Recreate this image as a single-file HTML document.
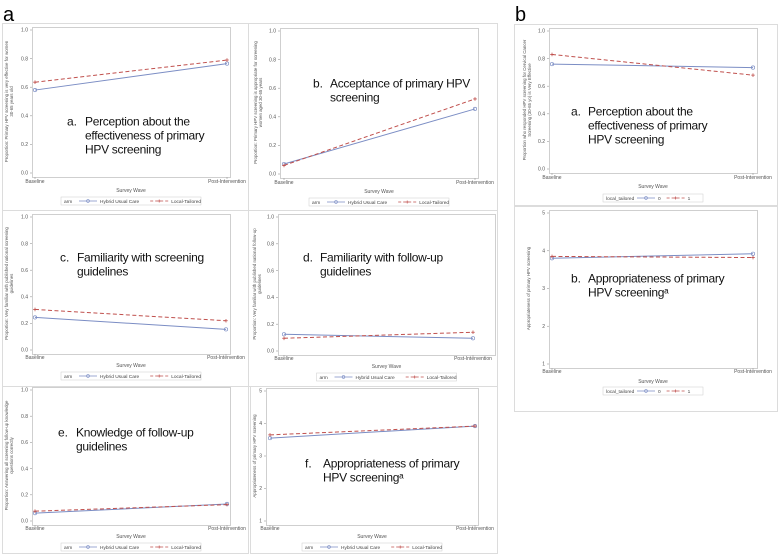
<!DOCTYPE html>
<html><head><meta charset="utf-8"><style>
html,body{margin:0;padding:0;background:#fff;}
svg{display:block;font-family:"Liberation Sans",sans-serif;}
</style></head><body>
<svg id="fig" width="778" height="555" viewBox="0 0 778 555" xmlns="http://www.w3.org/2000/svg"></svg>
<script>
// Data
const waves = ["Baseline", "Post-Intervention"];
const seriesNamesArm = ["Hybrid Usual Care", "Local-Tailored"];
const seriesNamesLT = ["0", "1"];
const aHybrid = [0.58, 0.765];   const aLocal = [0.635, 0.79];
const bHybrid = [0.07, 0.455];   const bLocal = [0.06, 0.525];
const cHybrid = [0.245, 0.155];  const cLocal = [0.305, 0.22];
const dHybrid = [0.125, 0.095];  const dLocal = [0.095, 0.14];
const eHybrid = [0.06, 0.13];    const eLocal = [0.075, 0.125];
const fHybrid = [3.55, 3.92];    const fLocal = [3.65, 3.92];
const rA0 = [0.76, 0.735];       const rA1 = [0.83, 0.68];
const rB0 = [3.8, 3.92];         const rB1 = [3.85, 3.82];
const propTicks = ["0.0", "0.2", "0.4", "0.6", "0.8", "1.0"];
const scaleTicks = ["1", "2", "3", "4", "5"];

const NS = "http://www.w3.org/2000/svg";
const svg = document.getElementById("fig");
function mk(tag, attrs, parent) {
  const e = document.createElementNS(NS, tag);
  for (const k in attrs) e.setAttribute(k, attrs[k]);
  (parent || svg).appendChild(e);
  return e;
}

const panels = [
  {id:"a", box:[2,23,246,187], ax:32, fr:230, yt:30, yb:173, bx:35, px:227, min:0, max:1, ticks:propTicks, s0:aHybrid, s1:aLocal, names:seriesNamesArm, leg:"arm",
   ylab:["Proportion: Primary HPV screening is very effective for women","30-65 years old"], ylx:8, xl:183, sw:192, lg:202,
   ann:{lx:67, tx:85, y:121, lines:["Perception about the","effectiveness of primary","HPV screening"], lab:"a."}},
  {id:"b", box:[248,23,249,187], ax:280, fr:478, yt:31, yb:174, bx:284, px:475, min:0, max:1, ticks:propTicks, s0:bHybrid, s1:bLocal, names:seriesNamesArm, leg:"arm",
   ylab:["Proportion: Primary HPV screening is appropriate for screening","women aged 30-65 years"], ylx:257, xl:184, sw:193, lg:203,
   ann:{lx:313, tx:330, y:83, lines:["Acceptance of primary HPV","screening"], lab:"b."}},
  {id:"c", box:[2,210,246,176], ax:32, fr:230, yt:217, yb:350, bx:35, px:226, min:0, max:1, ticks:propTicks, s0:cHybrid, s1:cLocal, names:seriesNamesArm, leg:"arm",
   ylab:["Proportion: Very familiar with published national screening","guidelines"], ylx:8, xl:359, sw:367, lg:377,
   ann:{lx:60, tx:77, y:257, lines:["Familiarity with screening","guidelines"], lab:"c."}},
  {id:"d", box:[248,210,249,176], ax:278, fr:495, yt:217, yb:351, bx:284, px:473, min:0, max:1, ticks:propTicks, s0:dHybrid, s1:dLocal, names:seriesNamesArm, leg:"arm",
   ylab:["Proportion: Very familiar with published national follow-up","guidelines"], ylx:256, xl:360, sw:368, lg:378,
   ann:{lx:303, tx:320, y:257, lines:["Familiarity with follow-up","guidelines"], lab:"d."}},
  {id:"e", box:[2,386,246,167], ax:32, fr:230, yt:390, yb:521, bx:35, px:227, min:0, max:1, ticks:propTicks, s0:eHybrid, s1:eLocal, names:seriesNamesArm, leg:"arm",
   ylab:["Proportion: Answering all screening follow-up knowledge","questions correctly"], ylx:8, xl:530, sw:538, lg:548,
   ann:{lx:58, tx:76, y:432, lines:["Knowledge of follow-up","guidelines"], lab:"e."}},
  {id:"f", box:[250,386,247,167], ax:266, fr:478, yt:391, yb:521, bx:270, px:475, min:1, max:5, ticks:scaleTicks, s0:fHybrid, s1:fLocal, names:seriesNamesArm, leg:"arm",
   ylab:["Appropriateness of primary HPV screening"], ylx:256, xl:530, sw:538, lg:548,
   ann:{lx:305, tx:323, y:463, lines:["Appropriateness of primary","HPV screening\u1d43"], lab:"f."}},
  {id:"ra", box:[514,24,263,181], ax:549, fr:757, yt:31, yb:169, bx:552, px:753, min:0, max:1, ticks:propTicks, s0:rA0, s1:rA1, names:seriesNamesLT, leg:"local_tailored",
   ylab:["Proportion who responded HPV screening for Cervical Cancer","Screening (30-65 yo) is Very Effective"], ylx:526, xl:179, sw:188, lg:199,
   ann:{lx:571, tx:588, y:111, lines:["Perception about the","effectiveness of primary","HPV screening"], lab:"a."}},
  {id:"rb", box:[514,206,263,205], ax:549, fr:757, yt:213, yb:364, bx:552, px:753, min:1, max:5, ticks:scaleTicks, s0:rB0, s1:rB1, names:seriesNamesLT, leg:"local_tailored",
   ylab:["Appropriateness of primary HPV screening"], ylx:530, xl:373, sw:383, lg:392,
   ann:{lx:571, tx:588, y:278, lines:["Appropriateness of primary","HPV screening\u1d43"], lab:"b."}}
];

const la = mk("text", {x:3, y:21, "font-size":20, fill:"#000"}); la.textContent = "a";


const lb = mk("text", {x:515, y:21, "font-size":20, fill:"#000"}); lb.textContent = "b";



const BLUE = "#7b8dc4", RED = "#c0504d";

panels.forEach(p => {
  const g = mk("g", {});
  
  
  mk("rect", {x:p.box[0]+0.5, y:p.box[1]+0.5, width:p.box[2], height:p.box[3], fill:"#fff", stroke:"#dcdcdc", "stroke-width":1}, g);
  const yS = v => p.yb - (v - p.min) / (p.max - p.min) * (p.yb - p.yt);
  const xS = i => i === 0 ? p.bx : p.px;
  const fTop = p.yt - 3, fBot = p.yb + 4;
  const frame = mk("rect", {x:p.ax+0.5, y:fTop+0.5, width:p.fr-p.ax, height:fBot-fTop, fill:"none", stroke:"#cfcfcf", "stroke-width":1}, g);
  
  
  p.ticks.forEach(t => {
    const y = yS(parseFloat(t));
    mk("line", {x1:p.ax-2, x2:p.ax, y1:y, y2:y, stroke:"#999", "stroke-width":0.6}, g);
    const tt = mk("text", {x:p.ax-4, y:y+1.7, "font-size":5, fill:"#555", "text-anchor":"end"}, g);
    tt.textContent = t;
    
    
  });
  waves.forEach((w, i) => {
    const x = xS(i);
    mk("line", {x1:x, x2:x, y1:fBot, y2:fBot+2, stroke:"#999", "stroke-width":0.6}, g);
    const tt = mk("text", {x:x, y:p.xl, "font-size":5, fill:"#555", "text-anchor":"middle"}, g);
    tt.textContent = w;
    
    
  });
  const xt = mk("text", {x:(p.ax+p.fr)/2, y:p.sw, "font-size":5, fill:"#555", "text-anchor":"middle"}, g);
  xt.textContent = "Survey Wave";
  
  
  const cy = (p.yt + p.yb) / 2;
  const yl = mk("text", {transform:`translate(${p.ylx},${cy}) rotate(-90)`, "font-size":4.4, fill:"#555", "text-anchor":"middle"}, g);
  
  
  p.ylab.forEach((l, i) => { const ts = mk("tspan", {x:0, dy:i ? 5.2 : 0}, yl); ts.textContent = l; });
  [[p.s0, BLUE, null, "series-0"], [p.s1, RED, "4,2.5", "series-1"]].forEach(([vals, col, dash, nm]) => {
    const pts = vals.map((v, i) => xS(i) + "," + yS(v)).join(" ");
    const pl = mk("polyline", {points:pts, fill:"none", stroke:col, "stroke-width":1, "stroke-dasharray":dash || "none"}, g);
    
    
    vals.forEach((v, i) => {
      const x = xS(i), y = yS(v);
      let m;
      if (!dash) m = mk("circle", {cx:x, cy:y, r:1.7, fill:"none", stroke:col, "stroke-width":0.7}, g);
      else m = mk("path", {d:`M${x-1.8},${y}H${x+1.8}M${x},${y-1.8}V${y+1.8}`, stroke:col, "stroke-width":0.8}, g);
      
      
    });
  });
  const lw = p.leg === "arm" ? 140 : 100;
  const lx = (p.ax + p.fr) / 2 - lw / 2;
  const lgG = mk("g", {}, g);
  
  
  mk("rect", {x:lx, y:p.lg-5, width:lw, height:8, fill:"#fff", stroke:"#ccc", "stroke-width":0.5}, lgG);
  const lt = mk("text", {x:lx+3, y:p.lg+0.8, "font-size":4.8, fill:"#444"}, lgG); lt.textContent = p.leg;
  let cx = lx + (p.leg === "arm" ? 18 : 34);
  p.names.forEach((n, i) => {
    const col = i ? RED : BLUE;
    mk("line", {x1:cx, x2:cx+18, y1:p.lg-1, y2:p.lg-1, stroke:col, "stroke-width":0.8, "stroke-dasharray":i ? "3,2" : "none"}, lgG);
    if (i) mk("path", {d:`M${cx+9-1.5},${p.lg-1}H${cx+9+1.5}M${cx+9},${p.lg-2.5}V${p.lg+0.5}`, stroke:col, "stroke-width":0.7}, lgG);
    else mk("circle", {cx:cx+9, cy:p.lg-1, r:1.4, fill:"none", stroke:col, "stroke-width":0.6}, lgG);
    const nt = mk("text", {x:cx+21, y:p.lg+0.8, "font-size":4.8, fill:"#444"}, lgG); nt.textContent = n;
    
    
    cx += 21 + n.length * 2.6 + 6;
  });
  const an = mk("g", {}, g);
  
  
  const al = mk("text", {x:p.ann.lx, y:p.ann.y+4.5, "font-size":12, fill:"#111"}, an); al.textContent = p.ann.lab;
  p.ann.lines.forEach((l, i) => {
    const t = mk("text", {x:p.ann.tx, y:p.ann.y + 4.5 + i*14, "font-size":12, fill:"#111", "letter-spacing":-0.3}, an);
    t.textContent = l;
  });
});
</script>
</body></html>
